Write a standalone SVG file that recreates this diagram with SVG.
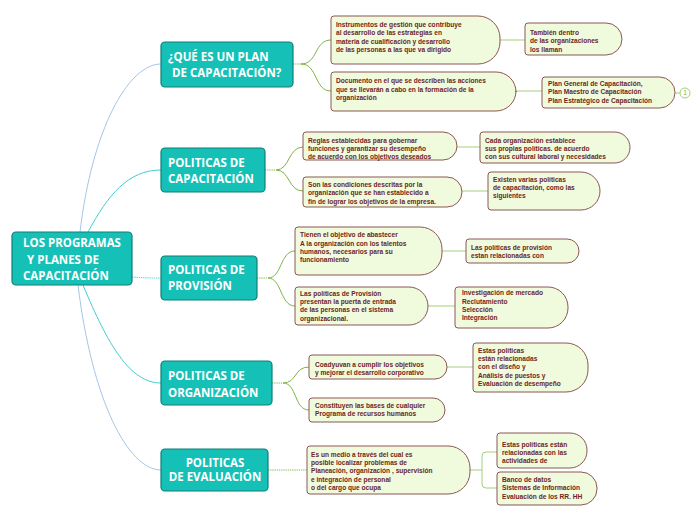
<svg xmlns="http://www.w3.org/2000/svg" width="696" height="520" viewBox="0 0 696 520">
<style>
.main rect{fill:#15c1b7;stroke:#0f7f77;stroke-width:1.2}
.main text{fill:#fff;font-family:"Open Sans","DejaVu Sans",sans-serif;font-weight:700;font-size:11.5px}
.sub path{fill:#effbdc;stroke:#8c5656;stroke-width:1}
.sub text{fill:#6e2424;font-family:"Liberation Sans",Arial,sans-serif;font-weight:700;font-size:6.6px}
.c{fill:none;stroke-width:1}
.blue{stroke:#a6c6e6}
.cyan{stroke:#3fcfcf}
.grn{stroke:#7cb342}
.lg{stroke:#a3cf7a}
.dot{stroke-dasharray:1.2 1}
</style>
<g id="connectors">
<path class="c blue" d="M80,232 C92,130 128,64 161,64"/>
<path class="c cyan" d="M88,232 C108,195 128,170 161,170"/>
<path class="c cyan dot" d="M132,277 C145,278 150,278 161,278"/>
<path class="c cyan" d="M83,285 C108,345 130,383 161,383"/>
<path class="c blue" d="M78,285 C92,400 128,470 161,470"/>
<path class="c grn dot" d="M293,64 H301"/>
<path class="c grn" d="M301,64 C318,64 314,40 331,40"/>
<path class="c grn" d="M301,64 C318,64 314,91 331,91"/>
<path class="c grn dot" d="M265,170 H276"/>
<path class="c grn" d="M276,170 C290,170 288,147 303,147"/>
<path class="c grn" d="M276,170 C290,170 288,191 303,191"/>
<path class="c grn dot" d="M257,278 H268"/>
<path class="c grn" d="M268,278 C282,278 280,251 295,251"/>
<path class="c grn" d="M268,278 C282,278 280,306 295,306"/>
<path class="c grn dot" d="M272,383 H283"/>
<path class="c grn" d="M283,383 C297,383 294,367 309,367"/>
<path class="c grn" d="M283,383 C297,383 294,410 309,410"/>
<path class="c grn dot" d="M268,470 H307"/>
<path class="c lg" d="M500,40 H525"/>
<path class="c lg" d="M516,91 H542"/>
<path class="c lg" d="M675,93 H680"/>
<path class="c lg" d="M457,147 H480"/>
<path class="c lg" d="M462,191 H488"/>
<path class="c lg" d="M442,251 H466"/>
<path class="c lg" d="M428,306 H455"/>
<path class="c lg" d="M447,367 H473"/>
<path class="c lg" d="M470,470 H482"/>
<path class="c lg" d="M497,452 H486 Q482,452 482,456 V484 Q482,488 486,488 H497"/>
</g>
<g id="root" class="main">
<rect x="12" y="232" width="120" height="53" rx="4"/>
<text x="23" y="246.5">LOS PROGRAMAS</text>
<text x="27" y="263.5">Y PLANES DE</text>
<text x="23" y="280">CAPACITACIÓN</text>
</g>
<g id="n-que" class="main">
<rect x="161" y="42" width="132" height="45" rx="4"/>
<text x="168" y="61">¿QUÉ ES UN PLAN</text>
<text x="172" y="77">DE CAPACITACIÓN?</text>
</g>
<g id="n-pcap" class="main">
<rect x="161" y="148" width="104" height="44" rx="4"/>
<text x="168" y="167">POLITICAS DE</text>
<text x="168" y="182.5">CAPACITACIÓN</text>
</g>
<g id="n-pprov" class="main">
<rect x="161" y="256" width="96" height="44" rx="4"/>
<text x="168" y="274">POLITICAS DE</text>
<text x="168" y="290">PROVISIÓN</text>
</g>
<g id="n-porg" class="main">
<rect x="161" y="361" width="111" height="44" rx="4"/>
<text x="168" y="380">POLITICAS DE</text>
<text x="168" y="396.5">ORGANIZACIÓN</text>
</g>
<g id="n-peval" class="main">
<rect x="161" y="449" width="107" height="42" rx="4"/>
<text x="215" y="466.5" text-anchor="middle">POLITICAS</text>
<text x="215" y="481" text-anchor="middle">DE EVALUACIÓN</text>
</g>
<g id="s-a" class="sub">
<path d="M334,16 H478 A22,22 0 0 1 500,38 V42 A22,22 0 0 1 478,64 H334 Q331,64 331,61 V19 Q331,16 334,16 Z"/>
<text x="336" y="26.5">Instrumentos de gestión que contribuye</text>
<text x="336" y="35">al desarrollo de las estrategias en</text>
<text x="336" y="43.5">materia de cualificación y desarrollo</text>
<text x="336" y="52">de las personas a las que va dirigido</text>
</g>
<g id="s-b" class="sub">
<path d="M334,72 H496 A20,20 0 0 1 516,92 V91 A20,20 0 0 1 496,111 H334 Q331,111 331,108 V75 Q331,72 334,72 Z"/>
<text x="336" y="83">Documento en el que se describen las acciones</text>
<text x="336" y="91.5">que se llevarán a cabo en la formación de la</text>
<text x="336" y="100">organización</text>
</g>
<g id="s-a1" class="sub">
<path d="M528,23 H606 A16,16 0 0 1 622,39 V39 A16,16 0 0 1 606,55 H528 Q525,55 525,52 V26 Q525,23 528,23 Z"/>
<text x="530" y="35">También dentro</text>
<text x="530" y="43">de las organizaciones</text>
<text x="530" y="51.5">los llaman</text>
</g>
<g id="s-b1" class="sub">
<path d="M545,77 H660 A15.5,15.5 0 0 1 675,92.5 V92.5 A15.5,15.5 0 0 1 660,108 H545 Q542,108 542,105 V80 Q542,77 545,77 Z"/>
<text x="548" y="86">Plan General de Capacitación,</text>
<text x="548" y="94">Plan Maestro de Capacitación</text>
<text x="548" y="102.5">Plan Estratégico de Capacitación</text>
</g>
<g id="badge">
<circle cx="685" cy="93" r="5" fill="#fff" stroke="#a3cf7a" stroke-width="1"/>
<text x="685" y="95.3" text-anchor="middle" font-family="Liberation Sans,Arial,sans-serif" font-size="6.5" fill="#7cb342">1</text>
</g>
<g id="s-c" class="sub">
<path d="M306,132 H443 A14,14 0 0 1 457,146 V146 A14,14 0 0 1 443,160 H306 Q303,160 303,157 V135 Q303,132 306,132 Z"/>
<text x="308" y="142.5">Reglas establecidas para gobernar</text>
<text x="308" y="151">funciones y garantizar su desempeño</text>
<text x="308" y="159" dy="0">de acuerdo con los objetivos deseados</text>
</g>
<g id="s-d" class="sub">
<path d="M306,177 H447 A15,15 0 0 1 462,192 V192 A15,15 0 0 1 447,207 H306 Q303,207 303,204 V180 Q303,177 306,177 Z"/>
<text x="308" y="187">Son las condiciones descritas por la</text>
<text x="308" y="195">organización que se han establecido a</text>
<text x="308" y="203.5">fin de lograr los objetivos de la empresa.</text>
</g>
<g id="s-c1" class="sub">
<path d="M483,132 H614 A15.5,15.5 0 0 1 630,147.5 V147.5 A15.5,15.5 0 0 1 614,163 H483 Q480,163 480,160 V135 Q480,132 483,132 Z"/>
<text x="485" y="142.5">Cada organización establece</text>
<text x="485" y="151">sus propias políticas. de acuerdo</text>
<text x="485" y="159">con sus cultural laboral y necesidades</text>
</g>
<g id="s-d1" class="sub">
<path d="M491,172 H581 A19,19 0 0 1 600,191 V191 A19,19 0 0 1 581,210 H491 Q488,210 488,207 V175 Q488,172 491,172 Z"/>
<text x="493" y="181.5">Existen varias políticas</text>
<text x="493" y="190">de capacitación, como las</text>
<text x="493" y="198">siguientes</text>
</g>
<g id="s-e" class="sub">
<path d="M298,227 H420 A22,22 0 0 1 442,249 V253 A22,22 0 0 1 420,275 H298 Q295,275 295,272 V230 Q295,227 298,227 Z"/>
<text x="300" y="237">Tienen el objetivo de abastecer</text>
<text x="300" y="245.5">A la organización con los talentos</text>
<text x="300" y="254">humanos, necesarios para su</text>
<text x="300" y="262">funcionamiento</text>
</g>
<g id="s-f" class="sub">
<path d="M298,287 H409 A19,19 0 0 1 428,306 V306 A19,19 0 0 1 409,325 H298 Q295,325 295,322 V290 Q295,287 298,287 Z"/>
<text x="300" y="295.5">Las políticas de Provisión</text>
<text x="300" y="304">presentan la puerta de entrada</text>
<text x="300" y="312">de las personas en el sistema</text>
<text x="300" y="320.5">organizacional.</text>
</g>
<g id="s-e1" class="sub">
<path d="M469,239 H567 A12,12 0 0 1 579,251 V251 A12,12 0 0 1 567,263 H469 Q466,263 466,260 V242 Q466,239 469,239 Z"/>
<text x="471" y="250">Las políticas de provisión</text>
<text x="471" y="258">estan relacionadas con</text>
</g>
<g id="s-f1" class="sub">
<path d="M458,287 H548 A20,20 0 0 1 568,307 V308 A20,20 0 0 1 548,328 H458 Q455,328 455,325 V290 Q455,287 458,287 Z"/>
<text x="462" y="295">Investigación de mercado</text>
<text x="462" y="303.5">Reclutamiento</text>
<text x="462" y="312">Selección</text>
<text x="462" y="320">Integración</text>
</g>
<g id="s-g" class="sub">
<path d="M312,355 H435 A12,12 0 0 1 447,367 V367 A12,12 0 0 1 435,379 H312 Q309,379 309,376 V358 Q309,355 312,355 Z"/>
<text x="315" y="366.5">Coadyuvan a cumplir los objetivos</text>
<text x="315" y="375">y mejorar el desarrollo corporativo</text>
</g>
<g id="s-h" class="sub">
<path d="M312,398 H433 A12,12 0 0 1 445,410 V410 A12,12 0 0 1 433,422 H312 Q309,422 309,419 V401 Q309,398 312,398 Z"/>
<text x="315" y="407.5">Constituyen las bases de cualquier</text>
<text x="315" y="416">Programa de recursos humanos</text>
</g>
<g id="s-g1" class="sub">
<path d="M476,343 H566 A22,22 0 0 1 588,365 V370 A22,22 0 0 1 566,392 H476 Q473,392 473,389 V346 Q473,343 476,343 Z"/>
<text x="478" y="352.5">Estas políticas</text>
<text x="478" y="361">están relacionadas</text>
<text x="478" y="369">con el diseño  y</text>
<text x="478" y="377.5">Análisis de puestos y</text>
<text x="478" y="386">Evaluación de desempeño</text>
</g>
<g id="s-i" class="sub">
<path d="M310,446 H448 A22,22 0 0 1 470,468 V472 A22,22 0 0 1 448,494 H310 Q307,494 307,491 V449 Q307,446 310,446 Z"/>
<text x="311" y="456.5">Es un  medio a través del cual es</text>
<text x="311" y="465">posible localizar problemas de</text>
<text x="311" y="473">Planeación, organización , supervisión</text>
<text x="311" y="481.5">e integración de personal</text>
<text x="311" y="490">o del cargo que ocupa</text>
</g>
<g id="s-j" class="sub">
<path d="M500,433 H570 A17,17 0 0 1 587,450 V451 A17,17 0 0 1 570,468 H500 Q497,468 497,465 V436 Q497,433 500,433 Z"/>
<text x="502" y="446.5">Estas políticas están</text>
<text x="502" y="455">relacionadas con las</text>
<text x="502" y="463">actividades de</text>
</g>
<g id="s-k" class="sub">
<path d="M500,472 H581 A16,16 0 0 1 597,488 V489 A16,16 0 0 1 581,505 H500 Q497,505 497,502 V475 Q497,472 500,472 Z"/>
<text x="502" y="482">Banco de datos</text>
<text x="502" y="490">Sistemas de Información</text>
<text x="502" y="498.5">Evaluación de los RR. HH</text>
</g>
</svg>
